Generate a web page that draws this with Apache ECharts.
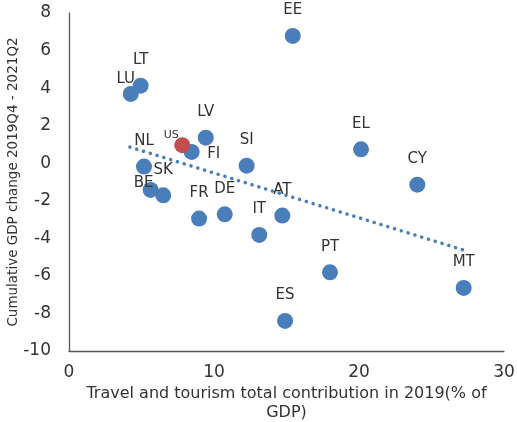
<!DOCTYPE html>
<html>
<head>
<meta charset="utf-8">
<script src="https://cdn.jsdelivr.net/npm/echarts@6/dist/echarts.min.js"></script>
<style>html,body{margin:0;padding:0;background:#fff}#c{width:517px;height:422px}</style>
</head>
<body>
<div id="c"></div>
<script>
// Data
var countries = ['EE','LT','LU','LV','FI','NL','BE','SK','SI','FR','DE','AT','IT','EL','CY','PT','ES','MT'];
var tourismShare = [15.43,4.94,4.26,9.43,8.46,5.17,5.63,6.50,12.25,8.97,10.74,14.71,13.12,20.14,24.02,18.0,14.9,27.22];
var gdpChange = [6.78,4.13,3.69,1.36,0.60,-0.18,-1.42,-1.71,-0.13,-2.95,-2.72,-2.79,-3.82,0.74,-1.14,-5.81,-8.40,-6.64];
var usName = 'US';
var usTourism = [7.81];
var usGdp = [0.96];
var trendX = [4.2, 27.2];
var trendY = [0.86, -4.62];
var xTicks = [0, 10, 20, 30];
var yTicks = [-10, -8, -6, -4, -2, 0, 2, 4, 6, 8];

// Label placement (style only)
var labelOffsets = {
  LU: [-5, 11],
  FI: [22, 28],
  BE: [-7, 19]
};

var font = '"DejaVu Sans", Verdana, sans-serif';
var blue = '#4A7EBB';
var red = '#C0504D';
var txt = '#333333';

var euData = countries.map(function (c, i) {
  var item = { name: c, value: [tourismShare[i], gdpChange[i]] };
  if (labelOffsets[c]) item.label = { offset: labelOffsets[c] };
  return item;
});
var usData = usTourism.map(function (v, i) {
  return { name: usName, value: [v, usGdp[i]] };
});
var trendData = trendX.map(function (v, i) { return [v, trendY[i]]; });

var chart = echarts.init(document.getElementById('c'), null, { renderer: 'canvas' });
chart.setOption({
  animation: false,
  textStyle: { fontFamily: font },
  grid: { left: 69, right: 13, top: 13, bottom: 71, containLabel: false, outerBoundsMode: 'none' },
  xAxis: {
    type: 'value', min: xTicks[0], max: xTicks[xTicks.length - 1], interval: 10,
    axisLine: { onZero: false, lineStyle: { color: '#595959', width: 1.3 } },
    axisTick: { show: false },
    splitLine: { show: false },
    axisLabel: { color: txt, fontSize: 17, margin: 13, fontFamily: font },
    name: 'Travel and tourism total contribution in 2019(% of\nGDP)',
    nameLocation: 'middle', nameGap: 33, nameMoveOverlap: false,
    nameTextStyle: { color: txt, fontSize: 16, lineHeight: 19, fontFamily: font }
  },
  yAxis: {
    type: 'value', min: yTicks[0], max: yTicks[yTicks.length - 1], interval: 2,
    axisLine: { show: true, onZero: false, lineStyle: { color: '#595959', width: 1.3 } },
    axisTick: { show: false },
    splitLine: { show: false },
    axisLabel: { color: txt, fontSize: 17, margin: 18, fontFamily: font },
    name: 'Cumulative GDP change 2019Q4 - 2021Q2',
    nameLocation: 'middle', nameGap: 49, nameMoveOverlap: false,
    nameTextStyle: { color: txt, fontSize: 13.5, fontFamily: font }
  },
  series: [
    {
      type: 'line', data: trendData, symbol: 'none', z: 1,
      lineStyle: { color: blue, width: 3.5, type: [0.1, 7], cap: 'round' }
    },
    {
      type: 'scatter', data: euData, symbolSize: 16, z: 3,
      itemStyle: { color: blue, opacity: 1 },
      label: {
        show: true, position: 'top', distance: 10,
        formatter: '{b}', color: txt, fontSize: 15, fontFamily: font
      }
    },
    {
      type: 'scatter', data: usData, symbolSize: 16, z: 4,
      itemStyle: { color: red, opacity: 1 },
      label: {
        show: true, position: 'top', distance: 3, offset: [-11, 6],
        formatter: '{b}', color: txt, fontSize: 11, fontFamily: font
      }
    }
  ]
});
</script>
</body>
</html>
